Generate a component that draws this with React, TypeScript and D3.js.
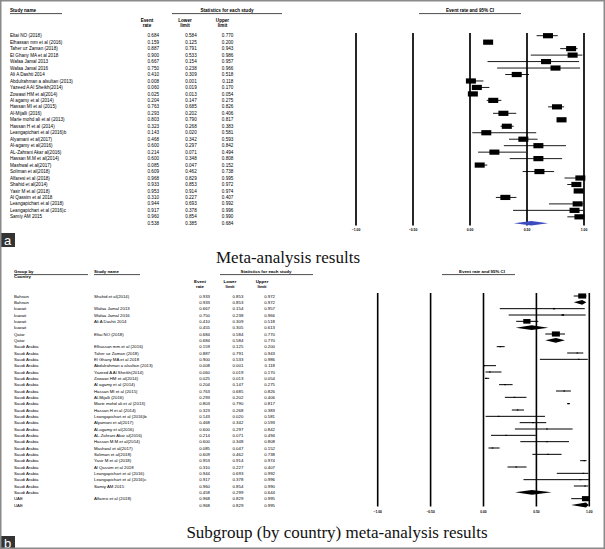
import React from "react";
import * as d3 from "d3";

// ---------- Panel a data ----------
const studiesA = [
  "Eltai NO (2018)", "Elhassan mm et al (2016)", "Taher uz Zaman (2018)", "El Ghany MA et al 2018",
  "Wafaa Jamal 2013", "Wafaa Jamal 2016", "Ali A Dashti 2014", "Abdulrahman a alsultan (2013)",
  "Yazeed A Al Sheikh(2014)", "Zowawi HM et al(2014)", "Al agamy et al (2014)", "Hassan MI et al (2015)",
  "Al-Mijalli (2016)", "Marie mohd ali et al (2013)", "Hassan H et al (2014)", "Leangapichart et al (2016)b",
  "Alyamani et al(2017)", "Al-agamy et al(2016)", "AL-Zahrani Akar al(2016)", "Hassan M.M et al(2014)",
  "Mashwal et al(2017)", "Soliman et al(2018)", "Alfaresi et al (2018)", "Shahid et al(2014)",
  "Yasir M et al (2018)", "Al Qassim et al 2018", "Leangapichart et al (2018)", "Leangapichart et al (2016)c",
  "Samiy AM 2015",
];
const rateA = [0.684, 0.159, 0.887, 0.9, 0.667, 0.75, 0.41, 0.008, 0.06, 0.025, 0.204, 0.763, 0.293, 0.803, 0.323, 0.143, 0.468, 0.6, 0.214, 0.6, 0.085, 0.609, 0.968, 0.933, 0.953, 0.31, 0.944, 0.917, 0.96];
const lowA = [0.584, 0.125, 0.791, 0.533, 0.154, 0.238, 0.309, 0.001, 0.019, 0.013, 0.147, 0.685, 0.202, 0.79, 0.268, 0.02, 0.342, 0.297, 0.071, 0.348, 0.047, 0.462, 0.829, 0.853, 0.914, 0.227, 0.693, 0.378, 0.854];
const highA = [0.77, 0.2, 0.943, 0.986, 0.957, 0.966, 0.518, 0.118, 0.17, 0.054, 0.275, 0.826, 0.406, 0.817, 0.383, 0.581, 0.593, 0.842, 0.494, 0.808, 0.152, 0.738, 0.995, 0.972, 0.974, 0.407, 0.992, 0.996, 0.99];
const overallA = { rate: 0.538, low: 0.385, high: 0.684 };

// ---------- Panel b data ----------
const countryB = [
  "Bahrain", "Bahrain", "kuwait", "kuwait", "kuwait", "kuwait", "Qatar", "Qatar",
  "Saudi Arabia", "Saudi Arabia", "Saudi Arabia", "Saudi Arabia", "Saudi Arabia", "Saudi Arabia",
  "Saudi Arabia", "Saudi Arabia", "Saudi Arabia", "Saudi Arabia", "Saudi Arabia", "Saudi Arabia",
  "Saudi Arabia", "Saudi Arabia", "Saudi Arabia", "Saudi Arabia", "Saudi Arabia", "Saudi Arabia",
  "Saudi Arabia", "Saudi Arabia", "Saudi Arabia", "Saudi Arabia", "Saudi Arabia", "Saudi Arabia",
  "UAE", "UAE",
];
const studyB = [
  "Shahid et al(2014)", "", "Wafaa Jamal 2013", "Wafaa Jamal 2016", "Ali A Dashti 2014", "", "Eltai NO (2018)", "",
  "Elhassan mm et al (2016)", "Taher uz Zaman (2018)", "El Ghany MA et al 2018", "Abdulrahman a alsultan (2013)",
  "Yazeed A Al Sheikh(2014)", "Zowawi HM et al(2014)", "Al agamy et al (2014)", "Hassan MI et al (2015)",
  "Al-Mijalli (2016)", "Marie mohd ali et al (2013)", "Hassan H et al (2014)", "Leangapichart et al (2016)b",
  "Alyamani et al(2017)", "Al-agamy et al(2016)", "AL-Zahrani Akar al(2016)", "Hassan M.M et al(2014)",
  "Mashwal et al(2017)", "Soliman et al(2018)", "Yasir M et al (2018)", "Al Qassim et al 2018",
  "Leangapichart et al (2016)", "Leangapichart et al (2016)c", "Samiy AM 2015", "",
  "Alfaresi et al (2018)", "",
];
const rateB = [0.933, 0.933, 0.667, 0.75, 0.41, 0.455, 0.684, 0.684, 0.159, 0.887, 0.9, 0.008, 0.06, 0.025, 0.204, 0.763, 0.293, 0.803, 0.323, 0.143, 0.468, 0.6, 0.214, 0.6, 0.085, 0.609, 0.953, 0.31, 0.944, 0.917, 0.96, 0.458, 0.968, 0.968];
const lowB = [0.853, 0.853, 0.154, 0.238, 0.309, 0.305, 0.584, 0.584, 0.125, 0.791, 0.533, 0.001, 0.019, 0.013, 0.147, 0.685, 0.202, 0.79, 0.268, 0.02, 0.342, 0.297, 0.071, 0.348, 0.047, 0.462, 0.914, 0.227, 0.693, 0.378, 0.854, 0.299, 0.829, 0.829];
const highB = [0.972, 0.972, 0.957, 0.966, 0.518, 0.613, 0.77, 0.77, 0.2, 0.943, 0.986, 0.118, 0.17, 0.054, 0.275, 0.826, 0.406, 0.817, 0.383, 0.581, 0.593, 0.842, 0.494, 0.808, 0.152, 0.738, 0.974, 0.407, 0.992, 0.996, 0.99, 0.644, 0.995, 0.995];
// relative weight (%) within subgroup; 0 marks a subgroup summary row
const weightB = [100, 0, 8, 10, 82, 0, 100, 0, 4.3, 4.3, 4.3, 4.3, 4.3, 4.3, 4.3, 4.3, 4.3, 4.3, 4.3, 4.3, 4.3, 4.3, 4.3, 4.3, 4.3, 4.3, 4.3, 4.3, 4.3, 4.3, 4.3, 0, 100, 0];

const tickValues = [-1, -0.5, 0, 0.5, 1];

const SANS = "'Liberation Sans', Arial, sans-serif";
const SERIF = "'Liberation Serif', 'Times New Roman', serif";

const fmt = d3.format(".3f");
const tickFmt = d3.format(".2f");

function diamondPath(x: d3.ScaleLinear<number, number>, y: number, lo: number, mid: number, hi: number, h: number) {
  const p = d3.path();
  p.moveTo(x(lo), y);
  p.lineTo(x(mid), y - h);
  p.lineTo(x(hi), y);
  p.lineTo(x(mid), y + h);
  p.closePath();
  return p.toString();
}

function PanelA() {
  const x = d3.scaleLinear().domain([-1, 1]).range([356, 584]);
  const nRows = studiesA.length + 1;
  const y = d3.scaleLinear().domain([0, nRows - 1]).range([35.7, 223.3]);
  const fs = 4.6;
  const colEvent = 159, colLow = 196.7, colUp = 233.3;
  return (
    <g>
      {/* headers */}
      <g fontFamily={SANS} fontWeight="bold" fontSize={4.6} fill="#000">
        <text x={10} y={11.8}>Study name</text>
        <text x={227} y={11.8} textAnchor="middle">Statistics for each study</text>
        <text x={147} y={21.5} textAnchor="middle">Event</text>
        <text x={147} y={27.3} textAnchor="middle">rate</text>
        <text x={185} y={21.5} textAnchor="middle">Lower</text>
        <text x={185} y={27.3} textAnchor="middle">limit</text>
        <text x={222.5} y={21.5} textAnchor="middle">Upper</text>
        <text x={222.5} y={27.3} textAnchor="middle">limit</text>
        <text x={470} y={11.8} textAnchor="middle">Event rate and 95% CI</text>
      </g>
      <g stroke="#000" strokeWidth={0.7}>
        <line x1={10} x2={62} y1={13.6} y2={13.6} />
        <line x1={172} x2={282} y1={13.6} y2={13.6} />
        <line x1={419} x2={521} y1={13.6} y2={13.6} />
      </g>
      {/* table */}
      <g fontFamily={SANS} fontSize={fs} fill="#000">
        {studiesA.map((s, i) => (
          <g key={s + i}>
            <text x={10} y={y(i) + 1.6}>{s}</text>
            <text x={colEvent} y={y(i) + 1.6} textAnchor="end">{fmt(rateA[i])}</text>
            <text x={colLow} y={y(i) + 1.6} textAnchor="end">{fmt(lowA[i])}</text>
            <text x={colUp} y={y(i) + 1.6} textAnchor="end">{fmt(highA[i])}</text>
          </g>
        ))}
        <text x={colEvent} y={y(nRows - 1) + 1.6} textAnchor="end">{fmt(overallA.rate)}</text>
        <text x={colLow} y={y(nRows - 1) + 1.6} textAnchor="end">{fmt(overallA.low)}</text>
        <text x={colUp} y={y(nRows - 1) + 1.6} textAnchor="end">{fmt(overallA.high)}</text>
      </g>
      {/* axis vertical lines */}
      <g stroke="#000" strokeWidth={1.7}>
        {tickValues.map((t) => (
          <line key={t} x1={x(t)} x2={x(t)} y1={33} y2={225.5} />
        ))}
      </g>
      <g fontFamily={SANS} fontWeight="bold" fontSize={3.4} fill="#000">
        {tickValues.map((t) => (
          <text key={t} x={x(t)} y={230.5} textAnchor="middle">{tickFmt(t)}</text>
        ))}
      </g>
      {/* CIs and squares */}
      <g>
        {studiesA.map((s, i) => (
          <g key={"m" + i}>
            <line x1={x(lowA[i])} x2={x(highA[i])} y1={y(i)} y2={y(i)} stroke="#000" strokeWidth={0.9} />
            <rect x={x(rateA[i]) - 5} y={y(i) - 2.6} width={10} height={5.2} fill="#000" />
          </g>
        ))}
        <path d={diamondPath(x, y(nRows - 1), overallA.low, overallA.rate, overallA.high, 2.2)} fill="#3a4cbf" />
      </g>
      <text x={288} y={262.5} textAnchor="middle" fontFamily={SERIF} fontSize={17} fill="#111">Meta-analysis results</text>
      <rect x={0} y={233} width={15} height={14} fill="#333" />
      <text x={7.5} y={244.5} textAnchor="middle" fontFamily={SANS} fontSize={13} fill="#fff">a</text>
    </g>
  );
}

function PanelB() {
  const x = d3.scaleLinear().domain([-1, 1]).range([377.7, 589.3]);
  const n = countryB.length;
  const y = d3.scaleLinear().domain([0, n - 1]).range([296, 505]);
  const size = d3.scaleSqrt().domain([0, 100]).range([0, 8]);
  const fs = 4.3;
  const colEvent = 210, colLow = 243.3, colUp = 275;
  return (
    <g>
      <g fontFamily={SANS} fontWeight="bold" fontSize={4.4} fill="#000">
        <text x={14} y={273}>Group by</text>
        <text x={14} y={278.3}>Country</text>
        <text x={94} y={273}>Study name</text>
        <text x={266} y={273} textAnchor="middle">Statistics for each study</text>
        <text x={200} y={283.2} textAnchor="middle">Event</text>
        <text x={200} y={288.3} textAnchor="middle">rate</text>
        <text x={230} y={283.2} textAnchor="middle">Lower</text>
        <text x={230} y={288.3} textAnchor="middle">limit</text>
        <text x={262} y={283.2} textAnchor="middle">Upper</text>
        <text x={262} y={288.3} textAnchor="middle">limit</text>
        <text x={482} y={273} textAnchor="middle">Event rate and 95% CI</text>
      </g>
      <g stroke="#000" strokeWidth={0.7}>
        <line x1={14} x2={88} y1={274.6} y2={274.6} />
        <line x1={94} x2={140} y1={274.6} y2={274.6} />
        <line x1={220} x2={313} y1={274.6} y2={274.6} />
        <line x1={442} x2={515} y1={274.6} y2={274.6} />
      </g>
      <g fontFamily={SANS} fontSize={fs} fill="#000">
        {countryB.map((c, i) => (
          <g key={"t" + i}>
            <text x={14} y={y(i) + 1.5}>{c}</text>
            <text x={94} y={y(i) + 1.5}>{studyB[i]}</text>
            <text x={colEvent} y={y(i) + 1.5} textAnchor="end">{fmt(rateB[i])}</text>
            <text x={colLow} y={y(i) + 1.5} textAnchor="end">{fmt(lowB[i])}</text>
            <text x={colUp} y={y(i) + 1.5} textAnchor="end">{fmt(highB[i])}</text>
          </g>
        ))}
      </g>
      <g stroke="#000" strokeWidth={1.6}>
        {tickValues.map((t) => (
          <line key={t} x1={x(t)} x2={x(t)} y1={293} y2={506.5} />
        ))}
      </g>
      <g fontFamily={SANS} fontWeight="bold" fontSize={3.3} fill="#000">
        {tickValues.map((t) => (
          <text key={t} x={x(t)} y={512.5} textAnchor="middle">{tickFmt(t)}</text>
        ))}
      </g>
      <g>
        {countryB.map((c, i) =>
          weightB[i] > 0 ? (
            <g key={"m" + i}>
              <line x1={x(lowB[i])} x2={x(highB[i])} y1={y(i)} y2={y(i)} stroke="#000" strokeWidth={1} />
              <rect
                x={x(rateB[i]) - size(weightB[i]) / 2}
                y={y(i) - Math.max(size(weightB[i]) * 0.32, 0.5)}
                width={size(weightB[i])}
                height={Math.max(size(weightB[i]) * 0.64, 1)}
                fill="#000"
              />
            </g>
          ) : (
            <path key={"d" + i} d={diamondPath(x, y(i), lowB[i], rateB[i], highB[i], 2.4)} fill="#000" />
          )
        )}
      </g>
      <text x={337} y={537.5} textAnchor="middle" fontFamily={SERIF} fontSize={17} fill="#111">Subgroup (by country) meta-analysis results</text>
      <rect x={0} y={536} width={15} height={13} fill="#333" />
      <text x={7.5} y={547.5} textAnchor="middle" fontFamily={SANS} fontSize={13} fill="#fff">b</text>
    </g>
  );
}

export default function App() {
  return (
    <svg
      width={605}
      height={549}
      viewBox="0 0 605 549"
      style={{ position: "absolute", left: 0, top: 0, background: "#fff" }}
    >
      <rect x={0} y={0} width={605} height={549} fill="#fff" />
      <PanelA />
      <PanelB />
      <rect x={0.75} y={0.75} width={603.5} height={547.5} fill="none" stroke="#8a8a8a" strokeWidth={1.5} />
    </svg>
  );
}
